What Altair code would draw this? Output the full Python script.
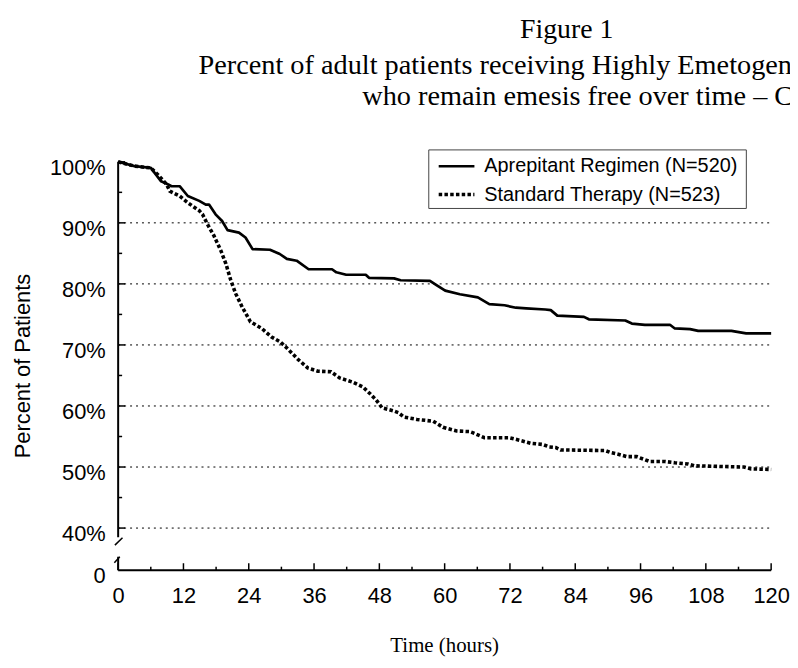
import altair as alt
import pandas as pd

# ---------------- data ----------------
SERIES = ["Aprepitant Regimen (N=520)", "Standard Therapy (N=523)"]

HOURS_APREP = [0, 3, 6, 7.9, 9.2, 9.8, 11.3, 12.8, 14.9, 16.1, 16.7, 17.9, 19.1, 20.1,
               22.2, 23.4, 24.7, 27.9, 29.7, 31.0, 32.8, 35.0, 39.3, 40.1, 41.9, 45.5,
               46.1, 50.7, 51.9, 57.3, 58.5, 60.1, 62.8, 66.1, 68.2, 71.0, 73.1, 75.0,
               78.5, 79.5, 80.7, 85.6, 86.5, 93.2, 94.4, 96.8, 101.4, 102.3, 105.1,
               106.6, 112.7, 115.4, 120]
PCT_APREP = [100, 99.3, 99.0, 96.8, 96.3, 96.0, 96.0, 94.4, 93.6, 93.0, 93.0, 91.4, 90.3, 88.8,
             88.4, 87.6, 85.7, 85.6, 84.9, 84.1, 83.8, 82.4, 82.4, 81.9, 81.5, 81.5,
             81.0, 80.9, 80.6, 80.5, 79.8, 78.9, 78.3, 77.8, 76.7, 76.5, 76.1, 76.0,
             75.8, 75.7, 74.8, 74.6, 74.2, 74.0, 73.5, 73.3, 73.3, 72.7, 72.6,
             72.3, 72.3, 71.9, 71.9]

HOURS_STD = [0, 3, 6, 7.3, 8.9, 9.5, 11.3, 12.8, 14.9, 15.5, 16.4, 17.6, 18.9, 19.8, 20.7,
             21.6, 22.8, 24.3, 26.4, 28.2, 29.8, 31.0, 33.1, 34.9, 36.7, 39.1, 40.7, 43.1,
             45.0, 46.3, 47.4, 48.5, 50.6, 51.5, 52.5, 54.9, 57.9, 58.8, 59.7, 62.2, 64.6,
             65.5, 67.3, 71.9, 73.7, 75.8, 78.0, 79.2, 80.4, 81.3, 89.5, 90.4, 91.9, 93.5,
             95.3, 96.5, 97.7, 100.5, 102.3, 104.7, 105.9, 115.0, 116.3, 120]
PCT_STD = [100, 99.3, 99.0, 97.9, 96.3, 95.2, 94.4, 93.3, 92.0, 91.4, 89.8, 87.9, 85.4, 83.3, 80.6,
           78.4, 76.2, 73.8, 72.7, 71.3, 70.5, 69.5, 67.6, 66.2, 65.7, 65.6, 64.6, 63.9,
           63.1, 62.0, 61.0, 59.7, 59.2, 58.9, 58.2, 57.8, 57.5, 57.0, 56.5, 55.9, 55.8,
           55.5, 54.8, 54.8, 54.4, 53.9, 53.7, 53.3, 53.2, 52.8, 52.7, 52.4, 52.1, 51.7,
           51.7, 51.3, 50.9, 50.9, 50.7, 50.5, 50.2, 50.0, 49.7, 49.6]

X_TICKS = [0, 12, 24, 36, 48, 60, 72, 84, 96, 108, 120]
X_MINOR = [6, 18, 30, 42, 54, 66, 78, 90, 102, 114]
Y_MAJOR = [40, 50, 60, 70, 80, 90, 100]
Y_MINOR = [45, 55, 65, 75, 85, 95]
GRID_VALUES = [40, 50, 60, 70, 80, 90]
Y_ZERO_POS = 33.1          # broken axis: position where the "0" label sits
AXIS_TOP = 100
AXIS_UPPER_END = 38.5      # upper part of y axis line ends here (break)
AXIS_LOWER_START = 35.3    # lower part of y axis line starts here
BREAK_MARKS = {"x": [-0.6, -0.7], "x2": [0.8, 0.3], "y": [37.2, 34.3], "y2": [38.4, 35.3]}

TITLE_LINES = ["Figure 1",
               "Percent of adult patients receiving Highly Emetogenic Chemotherapy",
               "who remain emesis free over time \u2013 Cycle 1"]
X_TITLE = "Time (hours)"
Y_TITLE = "Percent of Patients"

# ---------------- layout ----------------
W, H = 658, 411.5
SANS = "Liberation Sans"
SERIF = "Liberation Serif"

xs = alt.Scale(domain=[0, 120], nice=False, zero=False)
ys = alt.Scale(domain=[Y_ZERO_POS, 100], nice=False, zero=False)

x_axis = alt.Axis(values=X_TICKS, domain=False, ticks=False, grid=False, title=None,
                  labelFont=SANS, labelFontSize=22, labelColor="black", labelPadding=16,
                  labelFlush=False, labelOverlap=False, labelBound=False)
y_axis = alt.Axis(values=[Y_ZERO_POS] + Y_MAJOR, domain=False, ticks=False, grid=False, title=None,
                  labelExpr="datum.value < 35 ? '0' : datum.value + '%'",
                  labelFont=SANS, labelFontSize=22, labelColor="black", labelPadding=13,
                  labelBaseline="middle", labelOffset=5.5, labelOverlap=False, labelBound=False,
                  labelFlush=False)


def X(field):
    return alt.X(field, scale=xs, axis=x_axis)


def Y(field):
    return alt.Y(field, scale=ys, axis=y_axis)


df_a = pd.DataFrame({"hours": HOURS_APREP, "pct": PCT_APREP, "series": SERIES[0]})
df_s = pd.DataFrame({"hours": HOURS_STD, "pct": PCT_STD, "series": SERIES[1]})

line_a = alt.Chart(df_a).mark_line(color="black", strokeWidth=2.7, strokeJoin="round").encode(
    x=X("hours:Q"), y=Y("pct:Q"))
line_s = alt.Chart(df_s).mark_line(color="black", strokeWidth=3.6, strokeDash=[3.5, 2.3],
                                   strokeCap="butt").encode(
    x=X("hours:Q"), y=Y("pct:Q"))

grid = alt.Chart(pd.DataFrame({"v": GRID_VALUES})).mark_rule(
    color="black", strokeWidth=1, strokeDash=[2, 4]).encode(
    y=Y("v:Q"), x=alt.value(0), x2=alt.value(W))

y_major = alt.Chart(pd.DataFrame({"v": Y_MAJOR})).mark_rule(color="black", strokeWidth=1.5).encode(
    y=Y("v:Q"), x=alt.value(0), x2=alt.value(7))
y_minor = alt.Chart(pd.DataFrame({"v": Y_MINOR})).mark_rule(color="black", strokeWidth=1.5).encode(
    y=Y("v:Q"), x=alt.value(0), x2=alt.value(4))
x_major = alt.Chart(pd.DataFrame({"v": X_TICKS})).mark_rule(color="black", strokeWidth=1.5).encode(
    x=X("v:Q"), y=alt.value(H), y2=alt.value(H - 7))
x_minor = alt.Chart(pd.DataFrame({"v": X_MINOR})).mark_rule(color="black", strokeWidth=1.5).encode(
    x=X("v:Q"), y=alt.value(H), y2=alt.value(H - 3.5))

x_line = alt.Chart(pd.DataFrame({"a": [0], "b": [120], "y": [Y_ZERO_POS]})).mark_rule(
    color="black", strokeWidth=2).encode(x=X("a:Q"), x2="b:Q", y=Y("y:Q"))
y_lines = alt.Chart(pd.DataFrame({"x": [0, 0], "y": [AXIS_TOP, AXIS_LOWER_START],
                                  "y2": [AXIS_UPPER_END, Y_ZERO_POS]})).mark_rule(
    color="black", strokeWidth=2).encode(x=X("x:Q"), y=Y("y:Q"), y2="y2:Q")
breaks = alt.Chart(pd.DataFrame(BREAK_MARKS)).mark_rule(color="black", strokeWidth=1.5).encode(
    x=X("x:Q"), x2="x2:Q", y=Y("y:Q"), y2="y2:Q")

# ---------------- legend (manual, boxed) ----------------
LEG_LEFT, LEG_RIGHT, LEG_TOP, LEG_BOTTOM = 313, 633, -12, 47
ROW_Y = [4.5, 33]
legend_box = alt.Chart(pd.DataFrame({"k": [0]})).mark_rect(
    fill="white", stroke="#444", strokeWidth=1).encode(
    x=alt.value(LEG_LEFT), x2=alt.value(LEG_RIGHT), y=alt.value(LEG_TOP), y2=alt.value(LEG_BOTTOM))
leg_layers = []
styles = [dict(strokeWidth=2.7), dict(strokeWidth=3.6, strokeDash=[3.5, 2.3], strokeCap="butt")]
for i, name in enumerate(SERIES):
    d = pd.DataFrame({"label": [name]})
    leg_layers.append(alt.Chart(d).mark_rule(color="black", **styles[i]).encode(
        x=alt.value(LEG_LEFT + 10), x2=alt.value(LEG_LEFT + 46), y=alt.value(ROW_Y[i])))
    leg_layers.append(alt.Chart(d).mark_text(
        font=SANS, fontSize=20, align="left", baseline="middle", color="black").encode(
        text="label:N", x=alt.value(LEG_LEFT + 56), y=alt.value(ROW_Y[i])))


# ---------------- titles ----------------
def text_layer(txt, x, y, font, size, align="left", angle=0):
    kw = dict(font=font, fontSize=size, align=align, baseline="alphabetic", color="black")
    if angle:
        kw.update(angle=angle, baseline="middle")
    return alt.Chart(pd.DataFrame({"t": [txt]})).mark_text(**kw).encode(
        text="t:N", x=alt.value(x), y=alt.value(y))


titles = [
    text_layer(TITLE_LINES[0], 452, -124.5, SERIF, 28, align="center"),
    text_layer(TITLE_LINES[1], 81, -88.5, SERIF, 28.5),
    text_layer(TITLE_LINES[2], 246, -57, SERIF, 28.5),
    text_layer(X_TITLE, W / 2, 494, SERIF, 21, align="center"),
    text_layer(Y_TITLE, -96, H / 2, SANS, 22, align="center", angle=270),
]

chart = alt.layer(
    grid, line_s, line_a, y_major, y_minor, x_major, x_minor, x_line, y_lines, breaks,
    legend_box, *leg_layers, *titles
).properties(
    width=W, height=H,
    autosize=alt.AutoSizeParams(type="none"),
    padding={"left": 111, "top": 152.5, "right": 19, "bottom": 87},
    background="white",
).configure_view(stroke=None)

chart.save("out.html", embed_options={"renderer": "svg", "actions": False})
